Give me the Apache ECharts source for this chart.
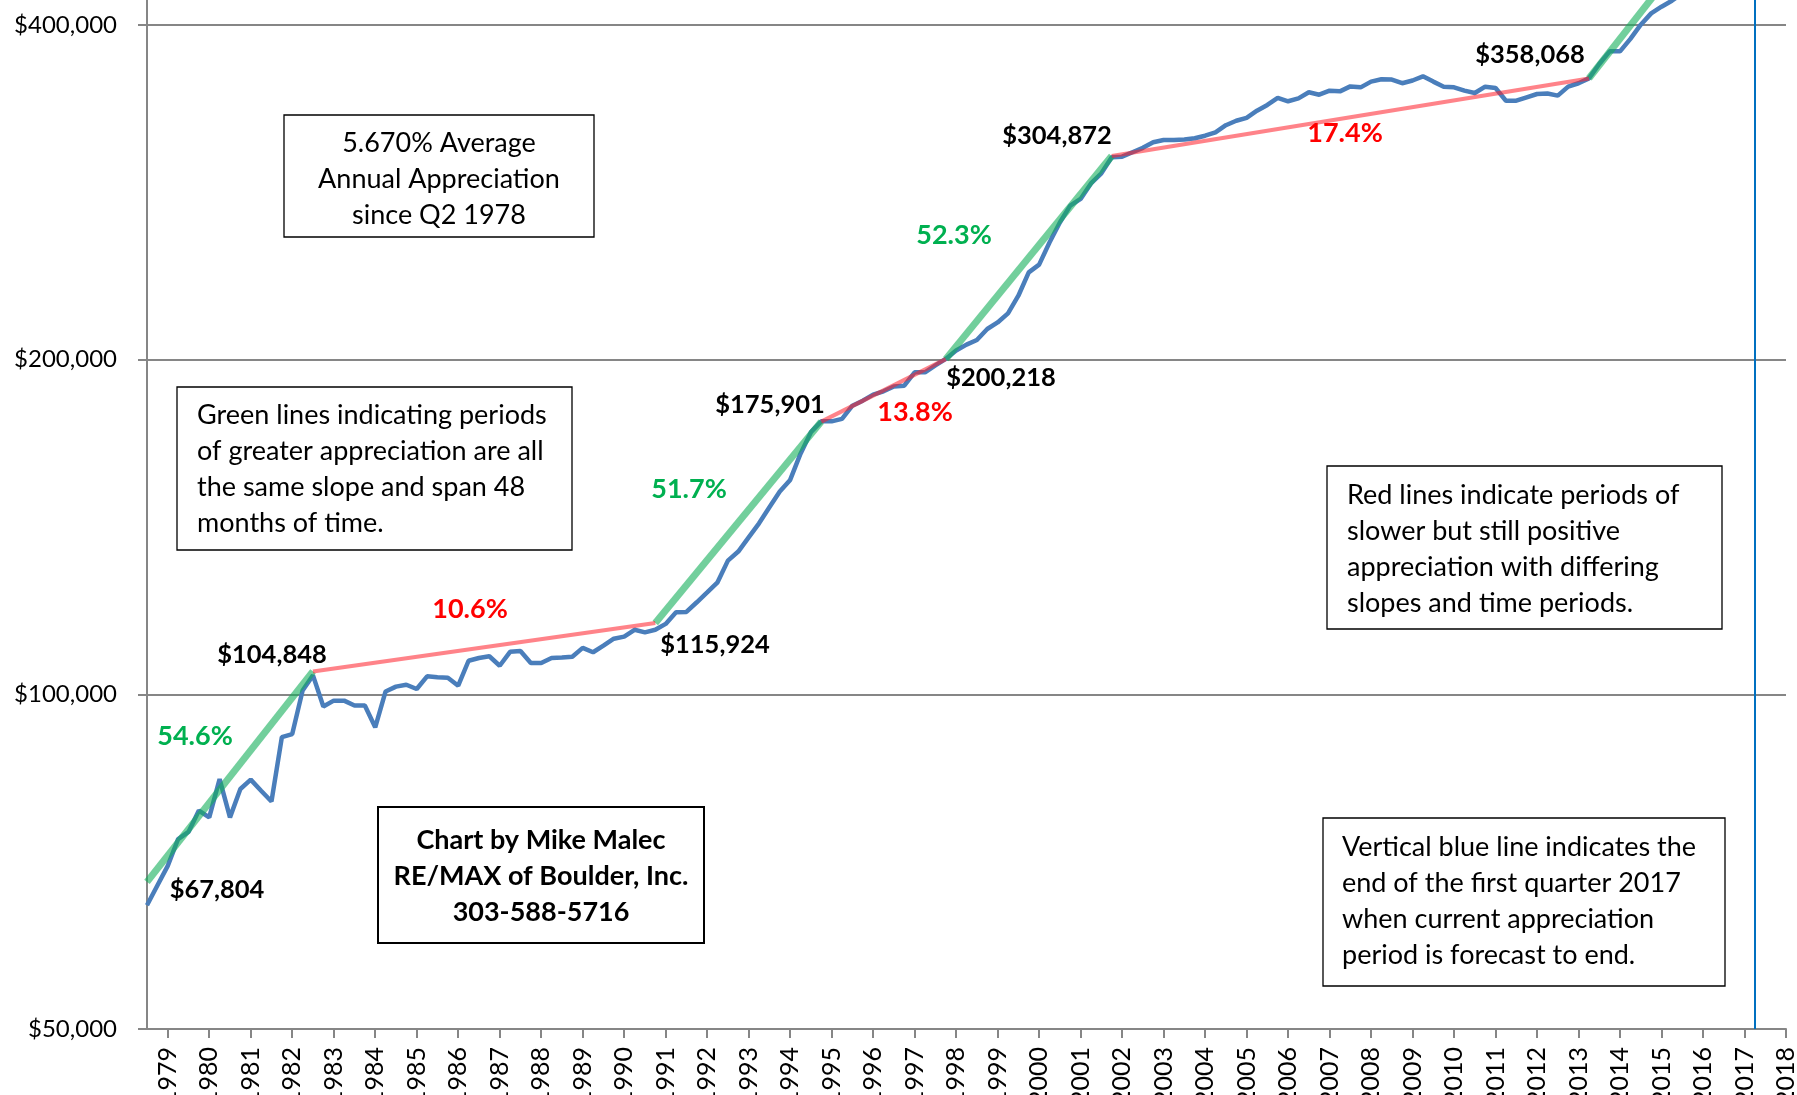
<!DOCTYPE html>
<html>
<head>
<meta charset="utf-8">
<title>Average Annual Appreciation since Q2 1978</title>
<script src="https://cdn.jsdelivr.net/npm/echarts@6/dist/echarts.min.js"></script>
<style>
  html, body { margin: 0; padding: 0; background: #fff; }
  #chart { width: 1797px; height: 1095px; }
</style>
</head>
<body>
<div id="chart"></div>
<script>
// quarterly median price, first point = Q2 1978
var prices = [
  64600, 67300, 70100, 74100, 75200, 78600, 77500, 83900, 77500, 82200,
  83800, 81900, 80100, 91500, 92100, 100800, 104000, 97500, 98700, 98700,
  97700, 97700, 93400, 100600, 101600, 102000, 101100, 103800, 103600, 103500,
  101800, 107200, 107800, 108200, 106100, 109200, 109400, 106700, 106700, 107800,
  107900, 108100, 110100, 109100, 110600, 112200, 112700, 114300, 113700, 114300,
  115700, 118500, 118600, 121000, 123500, 126100, 131900, 134400, 138400, 142500,
  147300, 152200, 155900, 164600, 172100, 176000, 176000, 176900, 181800, 183700,
  186000, 187300, 189200, 189500, 194800, 194800, 197600, 200300, 203800, 206300,
  208300, 213100, 216000, 220100, 228300, 239600, 243500, 254900, 265700, 275100,
  279000, 288100, 294200, 304100, 304500, 307300, 310100, 313700, 315200, 315200,
  315500, 316300, 318000, 320200, 325000, 328000, 330000, 334900, 338900, 343900,
  341500, 343600, 347900, 346200, 349100, 348600, 352200, 351500, 355700, 357400,
  357200, 354500, 356500, 359600, 355700, 352000, 351500, 349100, 347400, 352000,
  351000, 341900, 341900, 344300, 346700, 347100, 345500, 352000, 354500, 358100,
  368900, 378700, 378700, 388600, 400200, 409700, 415400, 420600, 427000
];

// [start quarter index, start value, end quarter index, end value]
var greenTrends = [
  [0, 67804, 16, 104848],
  [49, 115924, 65, 175901],
  [77, 200218, 93, 304872],
  [139, 358068, 155, 555000]
];
var redTrends = [
  [16, 104848, 49, 115924],
  [65, 175901, 77, 200218],
  [93, 304872, 139, 358068]
];

var yTicks = [50000, 100000, 200000, 400000];
var yearLabels = [
  '1979', '1980', '1981', '1982', '1983', '1984', '1985', '1986', '1987', '1988',
  '1989', '1990', '1991', '1992', '1993', '1994', '1995', '1996', '1997', '1998',
  '1999', '2000', '2001', '2002', '2003', '2004', '2005', '2006', '2007', '2008',
  '2009', '2010', '2011', '2012', '2013', '2014', '2015', '2016', '2017', '2018'
];
var forecastEnd = 'Q1 2017';

// quarter names, Q2 1978 .. Q4 2017
var quarters = [];
for (var yr = 1978; yr <= 2017; yr++) {
  for (var q = 1; q <= 4; q++) {
    if (yr === 1978 && q < 2) continue;
    quarters.push('Q' + q + ' ' + yr);
  }
}

var FONT = 'Lato, "Noto Sans", sans-serif';

function isYearTick(i) {
  return (i - 2) % 4 === 0;
}

function money(v) {
  return '$' + v.toLocaleString('en-US');
}

function trendSeries(seg, color, width) {
  return {
    type: 'line',
    data: [[seg[0], seg[1]], [seg[2], seg[3]]],
    showSymbol: false,
    silent: true,
    z: 3,
    lineStyle: { color: color, width: width }
  };
}

function label(text, cx, cy, color, size) {
  return {
    type: 'text',
    z: 100,
    style: {
      text: text, x: cx, y: cy,
      fill: color,
      font: 'bold ' + size + 'px ' + FONT,
      align: 'center', textAlign: 'center',
      verticalAlign: 'middle', textVerticalAlign: 'middle'
    }
  };
}

function box(x, y, w, h, lw) {
  return {
    type: 'rect',
    z: 90,
    shape: { x: x, y: y, width: w, height: h },
    style: { fill: '#fff', stroke: '#000', lineWidth: lw }
  };
}

function boxText(text, x, y, align, bold) {
  return {
    type: 'text',
    z: 100,
    style: {
      text: text, x: x, y: y,
      fill: '#000',
      font: (bold ? 'bold ' : '') + '27px ' + FONT,
      lineHeight: 36,
      align: align, textAlign: align,
      verticalAlign: 'top', textVerticalAlign: 'top'
    }
  };
}

var chart = echarts.init(document.getElementById('chart'));

var series = [{
  name: 'Median Price',
  type: 'line',
  data: prices,
  showSymbol: false,
  z: 2,
  lineStyle: { color: '#4a7ebb', width: 4.5 },
  markLine: {
    silent: true,
    symbol: ['none', 'none'],
    label: { show: false },
    lineStyle: { color: '#0070c0', width: 2, type: 'solid' },
    data: [{ xAxis: forecastEnd }]
  }
}];
greenTrends.forEach(function (s) {
  series.push(trendSeries(s, 'rgba(20, 175, 90, 0.6)', 7));
});
redTrends.forEach(function (s) {
  series.push(trendSeries(s, 'rgba(255, 30, 40, 0.55)', 4));
});

chart.setOption({
  animation: false,
  backgroundColor: '#fff',
  textStyle: { fontFamily: FONT },
  grid: {
    left: 147, right: 11, top: 0, bottom: 66,
    containLabel: false,
    outerBoundsMode: 'none'
  },
  xAxis: {
    type: 'category',
    data: quarters,
    boundaryGap: false,
    axisLine: { lineStyle: { color: '#868686', width: 2 } },
    axisTick: {
      interval: isYearTick,
      length: 9,
      lineStyle: { color: '#868686', width: 2 }
    },
    axisLabel: {
      interval: isYearTick,
      rotate: 90,
      margin: 18,
      fontSize: 25,
      color: '#000',
      fontFamily: FONT,
      formatter: function (val, i) { return yearLabels[(i - 2) / 4]; }
    },
    splitLine: { show: false }
  },
  yAxis: {
    type: 'log',
    logBase: 2,
    min: 50000,
    max: 421200,
    axisLine: { show: true, lineStyle: { color: '#868686', width: 2 } },
    axisTick: {
      show: true,
      customValues: yTicks,
      length: 9,
      lineStyle: { color: '#868686', width: 2 }
    },
    axisLabel: {
      customValues: yTicks,
      margin: 30,
      fontSize: 24,
      color: '#000',
      fontFamily: FONT,
      formatter: function (v) { return money(v); }
    },
    splitLine: { show: true, lineStyle: { color: '#868686', width: 2 } }
  },
  series: series,
  graphic: [
    box(284, 115, 310, 122, 1.3),
    boxText('5.670% Average\nAnnual Appreciation\nsince Q2 1978', 439, 125, 'center', false),

    box(177, 387, 395, 163, 1.3),
    boxText('Green lines indicating periods\nof greater appreciation are all\nthe same slope and span 48\nmonths of time.', 197, 397, 'left', false),

    box(378, 807, 326, 136, 2),
    boxText('Chart by Mike Malec\nRE/MAX of Boulder, Inc.\n303-588-5716', 541, 822, 'center', true),

    box(1327, 466, 395, 163, 1.3),
    boxText('Red lines indicate periods of\nslower but still positive\nappreciation with differing\nslopes and time periods.', 1347, 477, 'left', false),

    box(1323, 818, 402, 168, 1.3),
    boxText('Vertical blue line indicates the\nend of the first quarter 2017\nwhen current appreciation\nperiod is forecast to end.', 1342, 829, 'left', false),

    label('$67,804', 217, 890, '#000', 25.5),
    label('$104,848', 272, 655, '#000', 25.5),
    label('$115,924', 715, 645, '#000', 25.5),
    label('$175,901', 770, 405, '#000', 25.5),
    label('$200,218', 1001, 378, '#000', 25.5),
    label('$304,872', 1057, 136, '#000', 25.5),
    label('$358,068', 1530, 55, '#000', 25.5),

    label('54.6%', 195, 736, '#00b050', 27),
    label('10.6%', 470, 609, '#ff0000', 27),
    label('51.7%', 689, 489, '#00b050', 27),
    label('13.8%', 915, 412, '#ff0000', 27),
    label('52.3%', 954, 235, '#00b050', 27),
    label('17.4%', 1345, 133, '#ff0000', 27)
  ]
});
</script>
</body>
</html>
